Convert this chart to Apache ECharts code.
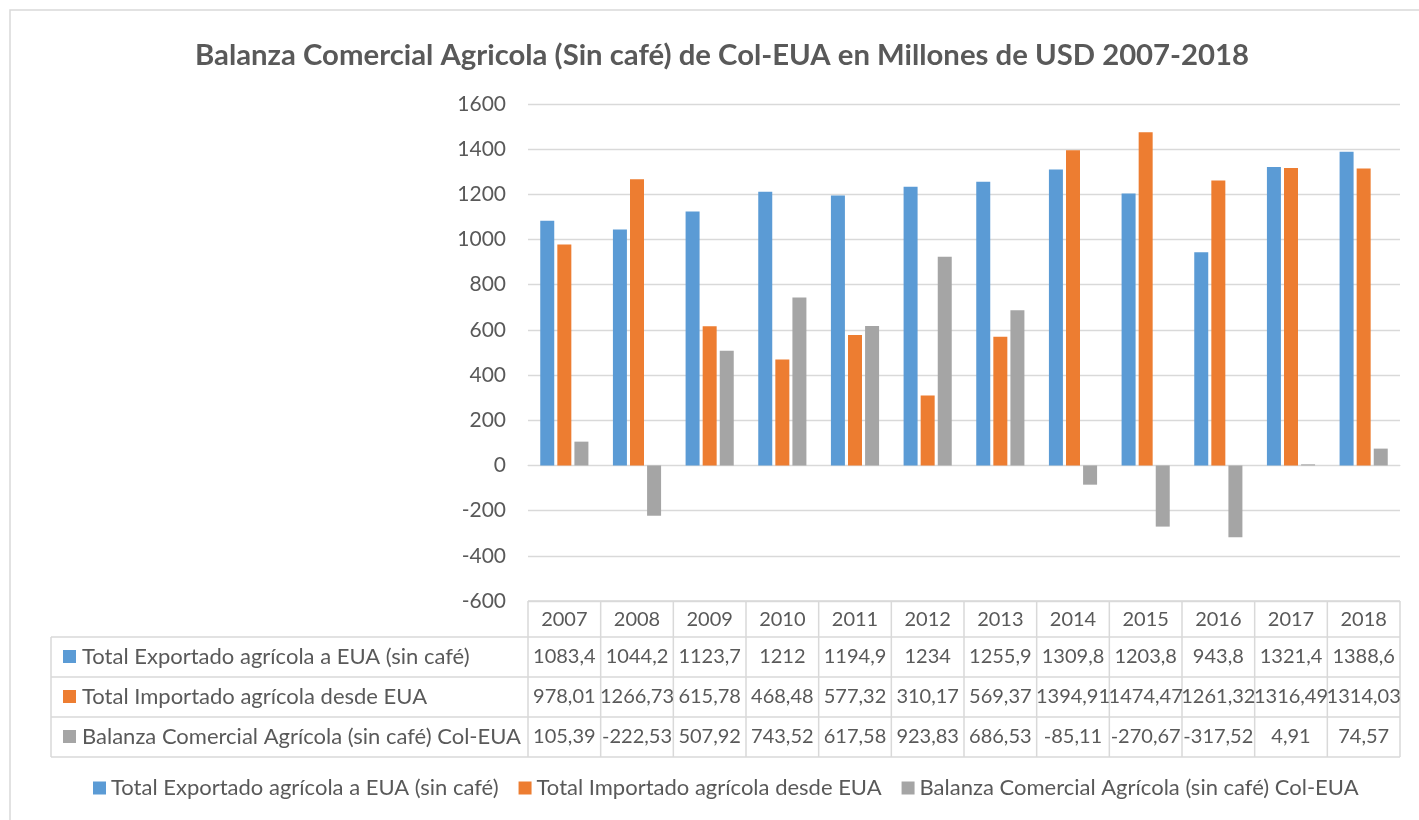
<!DOCTYPE html>
<html><head><meta charset="utf-8">
<script src="https://cdn.jsdelivr.net/npm/echarts@6/dist/echarts.min.js"></script>
<style>html,body{margin:0;padding:0;background:#fff}#c{width:1419px;height:820px}</style>
</head><body><div id="c"></div>
<script>
const categories = ['2007','2008','2009','2010','2011','2012','2013','2014','2015','2016','2017','2018'];
const exportado = [1083.4,1044.2,1123.7,1212,1194.9,1234,1255.9,1309.8,1203.8,943.8,1321.4,1388.6];
const importado = [978.01,1266.73,615.78,468.48,577.32,310.17,569.37,1394.91,1474.47,1261.32,1316.49,1314.03];
const balanza = [105.39,-222.53,507.92,743.52,617.58,923.83,686.53,-85.11,-270.67,-317.52,4.91,74.57];
const seriesNames = ['Total Exportado agrícola a EUA (sin café)','Total Importado agrícola desde EUA','Balanza Comercial Agrícola (sin café) Col-EUA'];
const colors = ['#5B9BD5','#ED7D31','#A5A5A5'];
const yTicks = {min:-600, max:1600, interval:200};

const FONT = 'Lato, "Noto Sans", sans-serif';
const TXT = '#595959';
const LINE = '#d9d9d9';
const chart = echarts.init(document.getElementById('c'));
const allData = [exportado, importado, balanza];
const fmt = v => String(v).replace('.', ',');

chart.setOption({
  animation:false,
  textStyle:{fontFamily:FONT},
  title:{text:'Balanza Comercial Agricola (Sin café) de Col-EUA en Millones de USD 2007-2018', left:190, top:36,
    textStyle:{fontFamily:FONT, fontSize:29.3, fontWeight:'bold', color:TXT}},
  legend:{bottom:16, left:88, itemWidth:13, itemHeight:13, itemGap:20, icon:'rect',
    textStyle:{fontFamily:FONT, fontSize:22, color:TXT}},
  grid:{left:528, right:19, top:104, bottom:219},
  xAxis:{type:'category', data:categories, axisLine:{lineStyle:{color:LINE}}, axisTick:{show:false}, axisLabel:{show:false}},
  yAxis:{type:'value', min:yTicks.min, max:yTicks.max, interval:yTicks.interval,
    axisLine:{show:false}, axisTick:{show:false},
    axisLabel:{fontSize:21, color:TXT, margin:22, fontFamily:FONT, formatter:v=>String(v)},
    splitLine:{lineStyle:{color:LINE, width:1.3}}},
  series: seriesNames.map((n,i)=>({name:n, type:'bar', data:allData[i], barWidth:14, barGap:'22%', itemStyle:{color:colors[i]}}))
});

// data table drawn from the arrays using the axis scale
const x0 = chart.convertToPixel({xAxisIndex:0}, 0);
const x1 = chart.convertToPixel({xAxisIndex:0}, 1);
const band = x1 - x0;
const left = x0 - band/2;
const right = left + band*categories.length;
const yBottom = chart.convertToPixel({yAxisIndex:0}, yTicks.min);
const headerH = 36, rowH = 40;
const tableLeft = 51;
const g = [];
g.push({type:'rect', shape:{x:10, y:10, width:1430, height:830}, style:{fill:null, stroke:LINE, lineWidth:1.5}, silent:true});
const ln = (xa,ya,xb,yb)=>g.push({type:'line', shape:{x1:xa,y1:ya,x2:xb,y2:yb}, style:{stroke:LINE, lineWidth:1.5}, silent:true});
const yRows = [yBottom, yBottom+headerH];
for (let r=1;r<=3;r++) yRows.push(yBottom+headerH+rowH*r);
const tableBottom = yRows[4];
ln(left, yBottom, right, yBottom);
for (let r=1;r<=4;r++) ln(tableLeft, yRows[r], right, yRows[r]);
for (let c=0;c<=categories.length;c++) ln(left+band*c, yBottom, left+band*c, tableBottom);
ln(tableLeft, yRows[1], tableLeft, tableBottom);
categories.forEach((cat,c)=>g.push({type:'text', x:left+band*(c+0.5), y:(yRows[0]+yRows[1])/2+1,
  style:{text:cat, fill:TXT, font:'20px '+FONT, textAlign:'center', textVerticalAlign:'middle'}, silent:true}));
allData.forEach((arr,r)=>{
  const cy = (yRows[r+1]+yRows[r+2])/2;
  g.push({type:'rect', shape:{x:63, y:cy-7, width:13, height:13}, style:{fill:colors[r]}, silent:true});
  g.push({type:'text', x:82, y:cy, style:{text:seriesNames[r], fill:TXT, font:'22px '+FONT, textAlign:'left', textVerticalAlign:'middle'}, silent:true});
  arr.forEach((v,c)=>g.push({type:'text', x:left+band*(c+0.5), y:cy,
    style:{text:fmt(v), fill:TXT, font:'20px '+FONT, textAlign:'center', textVerticalAlign:'middle'}, silent:true}));
});
chart.setOption({graphic:g});
</script></body></html>
